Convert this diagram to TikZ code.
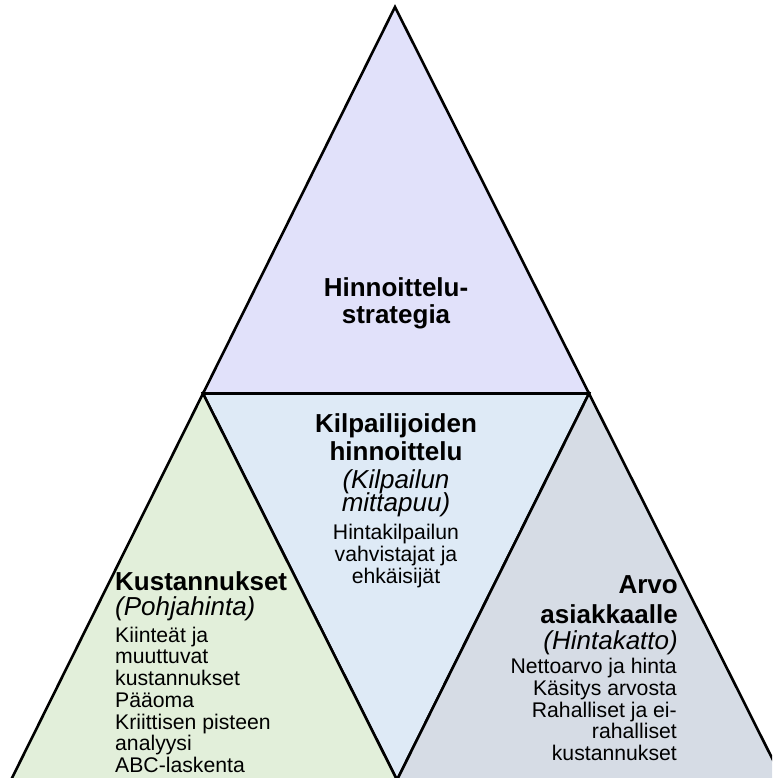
\documentclass[tikz,border=0pt]{standalone}
\usepackage{fontspec}
\setmainfont{Liberation Sans}
\definecolor{topfill}{HTML}{E1E1FA}
\definecolor{midfill}{HTML}{DEEAF6}
\definecolor{leftfill}{HTML}{E2EFDA}
\definecolor{rightfill}{HTML}{D6DCE5}
\tikzset{
  tri/.style={draw=black, line width=2.6pt, line join=miter},
  head/.style={font=\fontsize{26}{28}\selectfont\bfseries, inner sep=0pt},
  sub/.style={font=\fontsize{26}{28}\selectfont\itshape, inner sep=0pt},
  body/.style={font=\fontsize{21.2}{22}\selectfont, inner sep=0pt},
}
\begin{document}
\begin{tikzpicture}[x=1pt, y=-1pt]
  \useasboundingbox (0,0) rectangle (772,778);
  \clip (0,0) rectangle (772,778);
  % corners of the large triangle and the midpoints of its sides
  \coordinate (A)  at (395,7);
  \coordinate (BL) at (11,780);
  \coordinate (BR) at (783,780);
  \coordinate (ML) at (203,393.5);
  \coordinate (MR) at (589,393.5);
  \coordinate (MB) at (397,780);
  % the four sub-triangles
  \filldraw[tri, fill=topfill]   (A) -- (ML) -- (MR) -- cycle;
  \filldraw[tri, fill=midfill]   (ML) -- (MR) -- (MB) -- cycle;
  \filldraw[tri, fill=leftfill]  (ML) -- (BL) -- (MB) -- cycle;
  \filldraw[tri, fill=rightfill] (MR) -- (MB) -- (BR) -- cycle;

  % top: strategy
  \node[head, anchor=base] (t1) at (396,296) {Hinnoittelu-};
  \node[head, anchor=base] (t2) at (396,323) {strategia};

  % centre: competitors
  \node[head, anchor=base] (c1) at (396,432) {Kilpailijoiden};
  \node[head, anchor=base] (c2) at (396,460) {hinnoittelu};
  \node[sub,  anchor=base] (c3) at (396,488) {(Kilpailun};
  \node[sub,  anchor=base] (c4) at (396,511.5) {mittapuu)};
  \node[body, anchor=base] (c5) at (396,539) {Hintakilpailun};
  \node[body, anchor=base] (c6) at (396,561.5) {vahvistajat ja};
  \node[body, anchor=base] (c7) at (396,583) {ehkäisijät};

  % left: costs
  \node[head, anchor=base west] (l1) at (115,590) {Kustannukset};
  \node[sub,  anchor=base west] (l2) at (115,615) {(Pohjahinta)};
  \node[body, anchor=base west] (l3) at (115,642) {Kiinteät ja};
  \node[body, anchor=base west] (l4) at (115,663.5) {muuttuvat};
  \node[body, anchor=base west] (l5) at (115,685) {kustannukset};
  \node[body, anchor=base west] (l6) at (115,707) {Pääoma};
  \node[body, anchor=base west] (l7) at (115,729) {Kriittisen pisteen};
  \node[body, anchor=base west] (l8) at (115,750.5) {analyysi};
  \node[body, anchor=base west] (l9) at (115,772) {ABC-laskenta};

  % right: customer value
  \node[head, anchor=base east] (r1) at (678,593) {Arvo};
  \node[head, anchor=base east] (r2) at (678,623) {asiakkaalle};
  \node[sub,  anchor=base east] (r3) at (678,649) {(Hintakatto)};
  \node[body, anchor=base east] (r4) at (677,673) {Nettoarvo ja hinta};
  \node[body, anchor=base east] (r5) at (677,695) {Käsitys arvosta};
  \node[body, anchor=base east] (r6) at (677,717) {Rahalliset ja ei-};
  \node[body, anchor=base east] (r7) at (677,738.5) {rahalliset};
  \node[body, anchor=base east] (r8) at (677,760) {kustannukset};
\end{tikzpicture}
\end{document}
